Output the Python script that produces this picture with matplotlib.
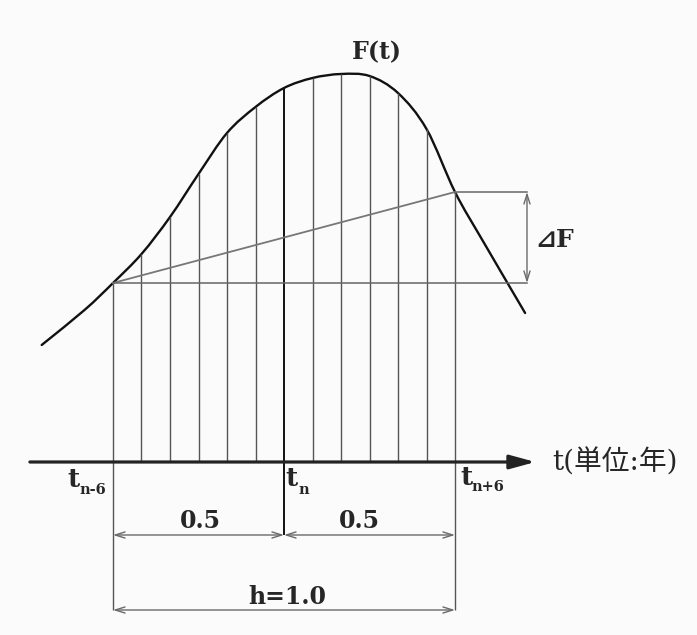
import matplotlib
matplotlib.use("Agg")
import matplotlib.pyplot as plt
from matplotlib.path import Path
from matplotlib.patches import PathPatch

plt.rcParams['font.family'] = ['DejaVu Serif', 'DejaVu Sans', 'Noto Sans CJK JP']

# ---- data (t in years, tn = 0; F in arbitrary units) ----
curve_t = [-0.7085, -0.5833, -0.5, -0.4167, -0.3333, -0.25, -0.1667,
           -0.0833, 0.0, 0.0833, 0.1667, 0.25, 0.3333, 0.4167, 0.5, 0.5833,
           0.705]
curve_F = [117, 152, 179, 208, 245, 288, 329,
           355, 374, 384, 388, 386, 369, 333, 270, 220,
           149]

step_k = [-6, -5, -4, -3, -2, -1, 0, 1, 2, 3, 4, 5, 6]
step_t = [k / 12 for k in step_k]
step_F = [179, 208, 245, 288, 329, 355, 374, 384, 388, 386, 369, 333, 270]

t_start, t_mid, t_end = -0.5, 0.0, 0.5
F_start, F_end = 179, 270
dF_x = 0.7105
axis_t0, axis_t1 = -0.743, 0.735
dim1_F, dim2_F = -73, -148

tick_main = ['t', 't', 't']
tick_sub = ['n-6', 'n', 'n+6']
half_label = '0.5'
full_label = 'h=1.0'
axis_label = 't(単位:年)'
curve_label = 'F(t)'
delta_label = '⊿F'

# ---- figure ----
fig = plt.figure(figsize=(6.97, 6.35), dpi=100, facecolor='#fbfbfb')
ax = fig.add_axes([0, 0, 1, 1])
ax.set_facecolor('#fbfbfb')
ax.set_xlim(-284 / 342, (697 - 284) / 342)
ax.set_ylim(-173, 462)
ax.axis('off')

gray = '#6a6a6a'
ink = '#262626'

# vertical step lines
for k, t, F in zip(step_k, step_t, step_F):
    if k == 0:
        ax.plot([t, t], [dim1_F, F], color='#111111', lw=1.4, solid_capstyle='butt')
    elif abs(k) == 6:
        ax.plot([t, t], [dim2_F, F], color='#555555', lw=1.0, solid_capstyle='butt')
    else:
        ax.plot([t, t], [0, F], color='#555555', lw=1.0, solid_capstyle='butt')

# chord and horizontals
ax.plot([t_start, t_end], [F_start, F_end], color='#777777', lw=1.3)
ax.plot([t_start, dF_x], [F_start, F_start], color='#666666', lw=1.1)
ax.plot([t_end, dF_x], [F_end, F_end], color='#666666', lw=1.1)

# curve: smooth Bezier path through the read points (Catmull-Rom tangents)
pts = list(zip(curve_t, curve_F))
verts = [pts[0]]
codes = [Path.MOVETO]
n = len(pts)
for i in range(n - 1):
    p1 = pts[i]
    p2 = pts[i + 1]
    p0 = pts[i - 1] if i > 0 else (2 * p1[0] - p2[0], 2 * p1[1] - p2[1])
    p3 = pts[i + 2] if i + 2 < n else (2 * p2[0] - p1[0], 2 * p2[1] - p1[1])
    c1 = (p1[0] + (p2[0] - p0[0]) / 6, p1[1] + (p2[1] - p0[1]) / 6)
    c2 = (p2[0] - (p3[0] - p1[0]) / 6, p2[1] - (p3[1] - p1[1]) / 6)
    verts += [c1, c2, p2]
    codes += [Path.CURVE4, Path.CURVE4, Path.CURVE4]
ax.add_patch(PathPatch(Path(verts, codes), facecolor='none', edgecolor='#111111',
                       lw=1.7, capstyle='round', joinstyle='round'))

# time axis
ax.annotate('', xy=(axis_t1, 0), xytext=(axis_t0, 0),
            arrowprops=dict(arrowstyle='-|>,head_length=1.1,head_width=0.3',
                            lw=2.3, color='#222222', mutation_scale=14,
                            shrinkA=0, shrinkB=0))

# dimension arrows
dim_style = dict(arrowstyle='<->,head_length=0.7,head_width=0.22', lw=1.0,
                 color=gray, mutation_scale=10, shrinkA=0, shrinkB=0)
ax.annotate('', xy=(t_mid, dim1_F), xytext=(t_start, dim1_F), arrowprops=dim_style)
ax.annotate('', xy=(t_end, dim1_F), xytext=(t_mid, dim1_F), arrowprops=dim_style)
ax.annotate('', xy=(t_end, dim2_F), xytext=(t_start, dim2_F), arrowprops=dim_style)
ax.annotate('', xy=(dF_x, F_start), xytext=(dF_x, F_end), arrowprops=dim_style)

# labels t_{n-6}, t_n, t_{n+6}
main_pos = [(-0.6345, -25), (0.0029, -24), (0.5146, -23)]
sub_pos = [(-0.5994, -32), (0.0409, -32), (0.5468, -29)]
for m, s, mp, sp in zip(tick_main, tick_sub, main_pos, sub_pos):
    ax.text(mp[0], mp[1], m, fontsize=19, fontweight='bold', ha='left',
            va='baseline', color=ink)
    ax.text(sp[0], sp[1], s, fontsize=10.5, fontweight='bold', ha='left',
            va='baseline', color=ink)

ax.text(-0.2456, -59, half_label, fontsize=17, fontweight='bold', ha='center',
        va='center', color=ink)
ax.text(0.219, -59, half_label, fontsize=17, fontweight='bold', ha='center',
        va='center', color=ink)
ax.text(0.009, -135, full_label, fontsize=17, fontweight='bold', ha='center',
        va='center', color=ink)

ax.text(0.7836, -1, axis_label, fontsize=20, ha='left', va='center', color=ink)
ax.text(0.272, 410, curve_label, fontsize=17, fontweight='bold', ha='center',
        va='center', color=ink)
ax.text(0.734, 222, delta_label, fontsize=18, fontweight='bold', ha='left',
        va='center', color=ink)

fig.savefig('out.png', dpi=100, facecolor=fig.get_facecolor())
